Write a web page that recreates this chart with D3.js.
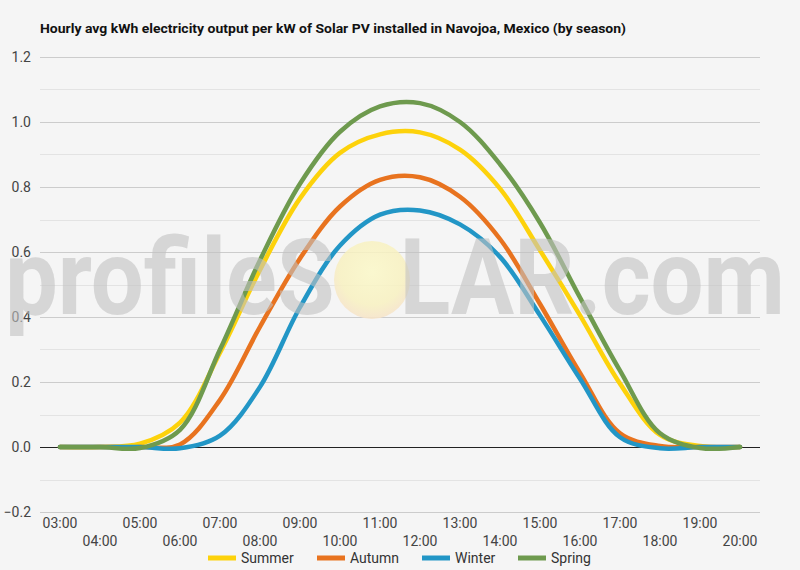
<!DOCTYPE html>
<html><head><meta charset="utf-8">
<script src="https://cdn.jsdelivr.net/npm/d3@7"></script>
<style>
html,body{margin:0;padding:0;background:#f5f5f5;}
svg{display:block;font-family:Roboto, "Liberation Sans", sans-serif;}
</style></head>
<body>
<svg id="c" width="800" height="570"></svg>
<script>
const hours = ["03:00","04:00","05:00","06:00","07:00","08:00","09:00","10:00","11:00","12:00","13:00","14:00","15:00","16:00","17:00","18:00","19:00","20:00"];
const summer = [0,0,0.01,0.075,0.29,0.545,0.765,0.905,0.962,0.968,0.915,0.795,0.605,0.405,0.195,0.037,0.003,0];
const autumn = [0,0,0,0.008,0.145,0.37,0.58,0.74,0.822,0.83,0.77,0.64,0.44,0.228,0.042,0.003,0,0];
const winter = [0,0,0,-0.004,0.035,0.185,0.43,0.62,0.715,0.728,0.685,0.585,0.405,0.21,0.03,-0.004,0,0];
const spring = [0,0,-0.003,0.053,0.30,0.575,0.81,0.97,1.048,1.058,1.0,0.87,0.69,0.46,0.235,0.042,-0.003,0];
const seriesNames = ["Summer","Autumn","Winter","Spring"];
const yTicks = [-0.2,0,0.2,0.4,0.6,0.8,1.0,1.2];
const yMinor = [-0.1,0.1,0.3,0.5,0.7,0.9,1.1];
const title = "Hourly avg kWh electricity output per kW of Solar PV installed in Navojoa, Mexico (by season)";

const colors = ["#fdd20b","#e8731f","#2296c6","#6e9a4e"];
const data = [summer, autumn, winter, spring];

const svg = d3.select("#c");
const pLeft = 40, pRight = 760, pTop = 57, pBottom = 512;

const x = d3.scalePoint().domain(hours).range([60, 740]);
const y = d3.scaleLinear().domain([-0.2, 1.2]).range([pBottom, pTop]);

svg.append("rect").attr("width",800).attr("height",570).attr("fill","#f5f5f5");

// title
svg.append("text").attr("x",40).attr("y",33).text(title)
  .attr("font-size",13.5).attr("font-weight","bold").attr("fill","#111")
  .attr("textLength",586).attr("lengthAdjust","spacingAndGlyphs");

// minor gridlines
svg.append("g").selectAll("line").data(yMinor).join("line")
  .attr("x1",pLeft).attr("x2",pRight).attr("y1",d=>Math.round(y(d))+0.5).attr("y2",d=>Math.round(y(d))+0.5)
  .attr("stroke","#e3e3e3").attr("stroke-width",1);
// major gridlines
svg.append("g").selectAll("line").data(yTicks.filter(d=>d!==0)).join("line")
  .attr("x1",pLeft).attr("x2",pRight).attr("y1",d=>Math.round(y(d))+0.5).attr("y2",d=>Math.round(y(d))+0.5)
  .attr("stroke","#cccccc").attr("stroke-width",1);

// y labels
svg.append("g").selectAll("text").data(yTicks).join("text")
  .attr("x",31).attr("y",d=>y(d)+5).attr("text-anchor","end")
  .attr("font-size",14).attr("fill","#444").text(d=>d3.format(".1f")(d));

// x labels
svg.append("g").selectAll("text").data(hours).join("text")
  .attr("x",d=>x(d)).attr("y",(d,i)=> i%2===0 ? 528 : 546).attr("text-anchor","middle")
  .attr("font-size",14).attr("fill","#444").text(d=>d);

// zero line
svg.append("line").attr("x1",pLeft).attr("x2",pRight).attr("y1",Math.round(y(0))+0.5).attr("y2",Math.round(y(0))+0.5)
  .attr("stroke","#222").attr("stroke-width",1);

// lines
const line = d3.line().x((d,i)=>x(hours[i])).y(d=>y(d)).curve(d3.curveCatmullRom.alpha(0.5));
svg.append("g").selectAll("path").data(data).join("path")
  .attr("d",d=>line(d)).attr("fill","none").attr("stroke",(d,i)=>colors[i])
  .attr("stroke-width",4.5).attr("stroke-linejoin","round").attr("stroke-linecap","round");

// watermark
const defs = svg.append("defs");
const rg = defs.append("radialGradient").attr("id","sun").attr("cx","50%").attr("cy","40%").attr("r","60%");
rg.append("stop").attr("offset","0%").attr("stop-color","#fbf8c8");
rg.append("stop").attr("offset","70%").attr("stop-color","#f8f1c0");
rg.append("stop").attr("offset","100%").attr("stop-color","#f6e3c8");
const wm = svg.append("g").attr("pointer-events","none");
wm.append("ellipse").attr("cx",372).attr("cy",280).attr("rx",38).attr("ry",39)
  .attr("fill","url(#sun)").attr("opacity",0.85);
const wt = wm.append("text").attr("x",5).attr("y",314).attr("font-size",106).attr("font-weight","bold")
  .attr("fill","#c2c2c2").attr("fill-opacity",0.6)
  .attr("textLength",780).attr("lengthAdjust","spacingAndGlyphs");
wt.append("tspan").text("profileS");
wt.append("tspan").attr("fill-opacity",0).text("O");
wt.append("tspan").text("LAR.com");

// legend
const legX = [208, 317, 422, 518];
const lg = svg.append("g").selectAll("g").data(seriesNames).join("g")
  .attr("transform",(d,i)=>`translate(${legX[i]},558)`);
lg.append("line").attr("x1",0).attr("x2",28).attr("stroke",(d,i)=>colors[i]).attr("stroke-width",5);
lg.append("text").attr("x",33).attr("y",5).attr("font-size",14).attr("fill","#333").text(d=>d);
</script>
</body></html>
